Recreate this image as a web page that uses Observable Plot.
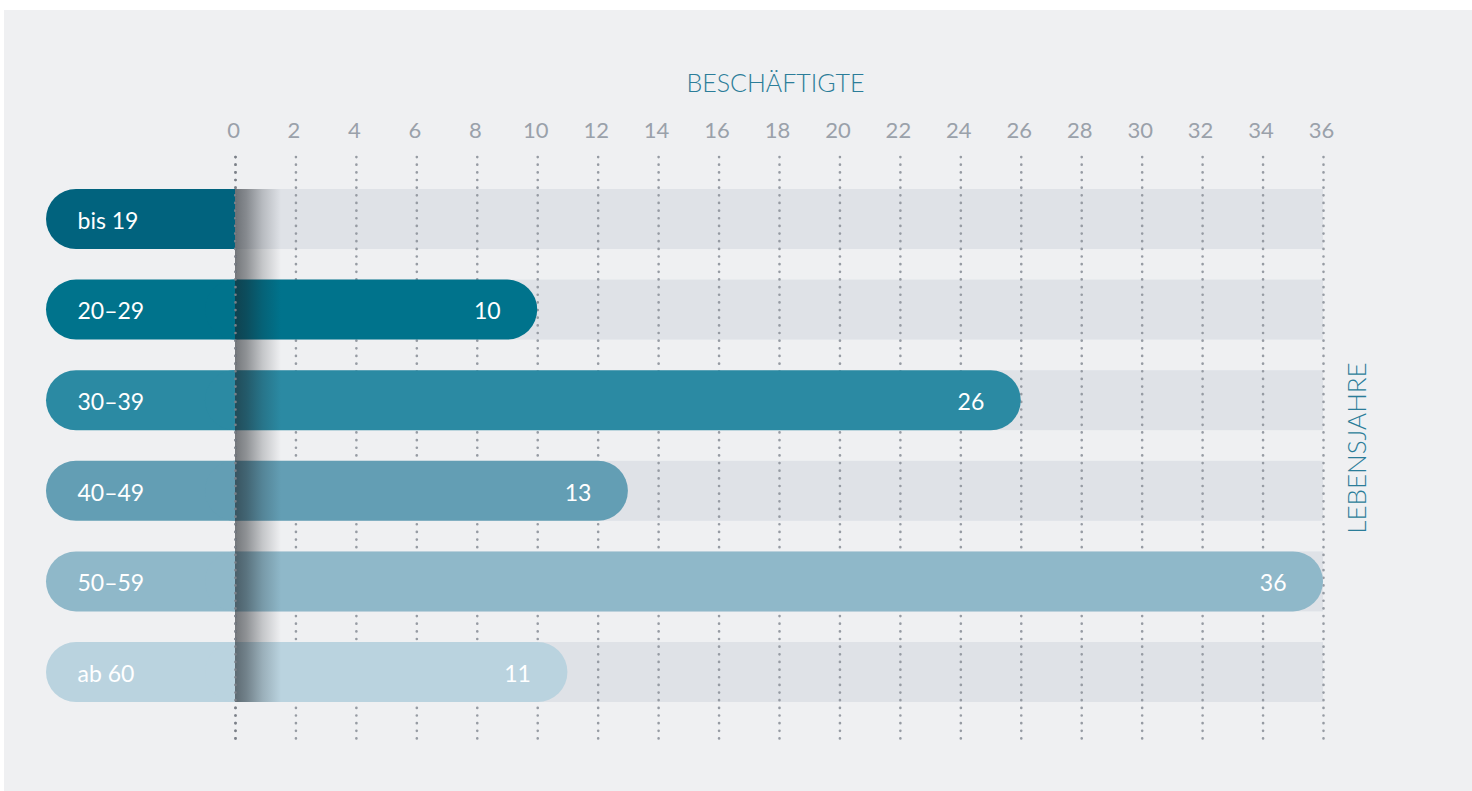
<!DOCTYPE html>
<html>
<head>
<meta charset="utf-8">
<script src="https://cdn.jsdelivr.net/npm/d3@7"></script>
<script src="https://cdn.jsdelivr.net/npm/@observablehq/plot@0.6"></script>
<style>
  html, body { margin: 0; padding: 0; background: #ffffff; overflow: hidden; }
  #panel { position: absolute; left: 4px; top: 10px; width: 1468px; height: 781px; background: #eff0f2; }
  #panel svg { display: block; }
</style>
</head>
<body>
<div id="panel"></div>
<script>
// ---- data ----
const categories = ["bis 19", "20–29", "30–39", "40–49", "50–59", "ab 60"];
const values = [0, 10, 26, 13, 36, 11];
const tickValues = [0, 2, 4, 6, 8, 10, 12, 14, 16, 18, 20, 22, 24, 26, 28, 30, 32, 34, 36];
const xTitle = "BESCHÄFTIGTE";
const yTitle = "LEBENSJAHRE";
const palette = ["#01637e", "#00738c", "#2b8aa3", "#639eb4", "#8fb8c9", "#bad3df"];

const rows = categories.map((c, i) => ({ cat: c, value: values[i] }));
const maxX = tickValues[tickValues.length - 1];

const gridStyle = { stroke: "#969ba3", strokeWidth: 2.6, strokeDasharray: "0.1 7.55", strokeLinecap: "round", insetTop: -32, insetBottom: -39 };

const chart = Plot.plot({
  width: 1468,
  height: 781,
  marginLeft: 231,
  marginRight: 149,
  marginTop: 179,
  marginBottom: 89,
  style: { background: "transparent", fontFamily: "Lato, 'Open Sans', sans-serif" },
  x: { domain: [0, maxX], axis: null },
  y: { type: "band", domain: categories, paddingInner: 0.338, paddingOuter: 0, round: false, axis: null },
  color: { domain: categories, range: palette },
  marks: [
    // category label pills (extended to the right, hidden under track)
    Plot.barX(rows, { y: "cat", x1: 0, x2: 0, insetLeft: -189, insetRight: -30, rx: 30, fill: "cat" }),
    // grey tracks
    Plot.barX(rows, { y: "cat", x1: 0, x2: maxX, fill: "#dfe2e7" }),
    // dotted gridlines
    Plot.ruleX(tickValues, { x: d => d, ...gridStyle }),
    // value bars
    Plot.barX(rows.filter(d => d.value > 0), { y: "cat", x1: 0, x2: "value", insetLeft: -30, rx: 30, fill: "cat" }),
    // shadow at zero
    Plot.rect([0], { x1: 0, x2: 0, insetRight: -46, fill: "url(#zeroShade)" }),
    Plot.ruleX([0], { x: d => d, ...gridStyle, stroke: "#7a7f87" }),
    // category labels
    Plot.text(rows, { y: "cat", text: "cat", frameAnchor: "left", dx: -158, dy: 2, textAnchor: "start", lineAnchor: "middle", fill: "#ffffff", fontSize: 23, fontWeight: 400 }),
    // value labels
    Plot.text(rows.filter(d => d.value > 0), { y: "cat", x: "value", text: d => String(d.value), dx: -37, dy: 2, textAnchor: "end", lineAnchor: "middle", fill: "#ffffff", fontSize: 23, fontWeight: 400 }),
    // tick labels
    Plot.text(tickValues, { x: d => d, text: d => String(d), frameAnchor: "top", lineAnchor: "middle", dx: -2, dy: -59, fill: "#9aa1aa", fontSize: 22, fontWeight: 400 }),
    // titles
    Plot.text([xTitle], { text: d => d, frameAnchor: "top", lineAnchor: "middle", textAnchor: "middle", dx: -4, dy: -106, fill: "#2b7d99", fontSize: 25, fontWeight: 300 }),
    Plot.text([yTitle], { text: d => d, frameAnchor: "right", lineAnchor: "middle", textAnchor: "middle", dx: 34, dy: 2, rotate: -90, fill: "#2b7d99", fontSize: 26, fontWeight: 300 })
  ]
});

// gradient definition for the shadow
const ns = "http://www.w3.org/2000/svg";
const defs = document.createElementNS(ns, "defs");
const grad = document.createElementNS(ns, "linearGradient");
grad.setAttribute("id", "zeroShade");
grad.setAttribute("x1", "0"); grad.setAttribute("x2", "1");
grad.setAttribute("y1", "0"); grad.setAttribute("y2", "0");
[[0, 0.58], [0.25, 0.45], [0.6, 0.2], [1, 0]].forEach(([o, a]) => {
  const s = document.createElementNS(ns, "stop");
  s.setAttribute("offset", o);
  s.setAttribute("stop-color", "#1a1f24");
  s.setAttribute("stop-opacity", a);
  grad.appendChild(s);
});
defs.appendChild(grad);
chart.insertBefore(defs, chart.firstChild);

document.getElementById("panel").appendChild(chart);
</script>
</body>
</html>
